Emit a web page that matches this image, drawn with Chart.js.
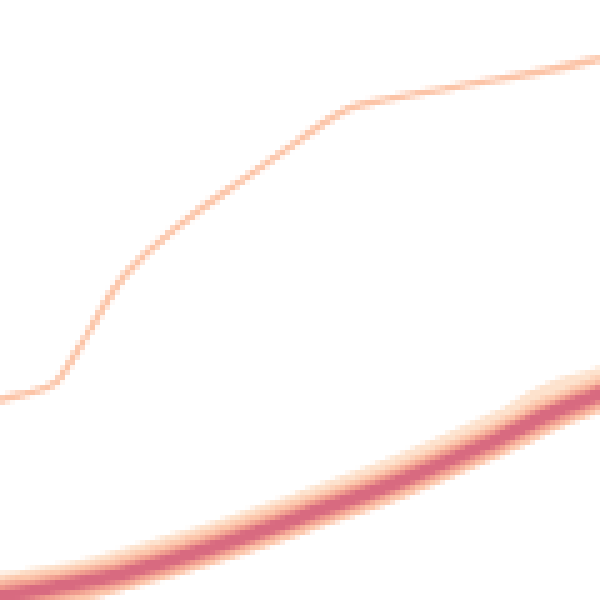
<!DOCTYPE html>
<html>
<head>
<meta charset="utf-8">
<script src="https://cdn.jsdelivr.net/npm/chart.js@4"></script>
<style>
  html, body { margin: 0; padding: 0; background: #fff; }
  #myChart { width: 600px !important; height: 600px !important; image-rendering: pixelated; display: block; }
</style>
</head>
<body>
<canvas id="myChart" width="120" height="120"></canvas>
<script>
// x positions and values (y counted up from the bottom, 0..600)
var thinX = [-20, 0, 20, 45, 60, 90, 125, 180, 250, 300, 340, 360, 450, 550, 620];
var thinY = [196, 200, 205, 212, 222, 270, 325, 375, 425, 460, 487, 495, 512, 530, 546];

var bandX = [-20, 0, 100, 200, 300, 400, 500, 550, 600, 620];
var bandCore = [0, 4, 21, 49, 83, 119, 162, 186, 206, 214];
var bandOuter = [4, 8, 26, 55, 89, 126, 170, 198, 214, 222];

function pts(xs, ys) {
    return xs.map(function(x, i) { return { x: x, y: ys[i] }; });
}

document.addEventListener("DOMContentLoaded", function() {
    var ctx = document.getElementById('myChart').getContext('2d');

    // first dataset is painted on top
    var myChart = new Chart(ctx, {
        type: 'line',
        data: {
            datasets: [
                { data: pts(thinX, thinY), borderColor: '#fcc4a7', borderWidth: 1.4 },
                { data: pts(bandX, bandCore), borderColor: '#d86a80', borderWidth: 2.6 },
                { data: pts(bandX, bandCore), borderColor: '#f09c8e', borderWidth: 4.6 },
                { data: pts(bandX, bandCore), borderColor: '#fcc7ac', borderWidth: 7 },
                { data: pts(bandX, bandOuter), borderColor: '#fde2cd', borderWidth: 7.5 }
            ]
        },
        options: {
            responsive: false,
            animation: false,
            devicePixelRatio: 1,
            layout: { padding: 0 },
            elements: {
                point: { radius: 0 },
                line: { tension: 0.4, fill: false, borderCapStyle: 'round' }
            },
            plugins: { legend: { display: false }, tooltip: { enabled: false } },
            scales: {
                x: { type: 'linear', min: 0, max: 600, display: false },
                y: { type: 'linear', min: 0, max: 600, display: false }
            }
        }
    });
});
</script>
</body>
</html>
